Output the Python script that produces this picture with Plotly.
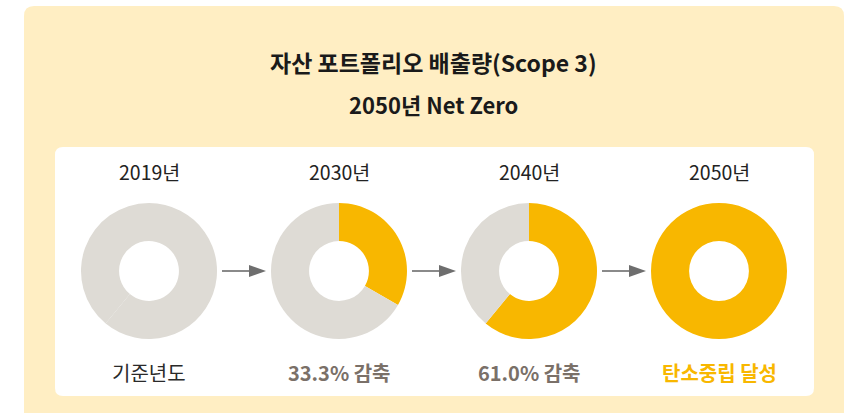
import plotly.graph_objects as go

# Scope 3 portfolio emissions pathway
years = ["2019년", "2030년", "2040년", "2050년"]
reduction_pct = [0.0, 33.3, 61.0, 100.0]
captions = ["기준년도", "33.3% 감축", "61.0% 감축", "탄소중립 달성"]
# the base-year ring is split at the 2040 level, both parts in grey
base_split = [61.0, 39.0]

title_main = "자산 포트폴리오 배출량(Scope 3)"
title_sub = "2050년 Net Zero"

W, H = 852, 413
BG_YELLOW = "#FFEEC3"
GREY = "#DEDBD5"
ORANGE = "#F8B700"
CAPTION_GREY = "#7A7068"
FONT = "Noto Sans CJK KR"

cx0, step, cy, R = 149, 190, 271, 68


def px(x):
    return x / W


def py(y):
    return 1 - y / H


def rounded_rect(x0, y0, x1, y1, r):
    return (f"M{x0 + r},{y0} L{x1 - r},{y0} Q{x1},{y0} {x1},{y0 + r} "
            f"L{x1},{y1 - r} Q{x1},{y1} {x1 - r},{y1} L{x0 + r},{y1} "
            f"Q{x0},{y1} {x0},{y1 - r} L{x0},{y0 + r} Q{x0},{y0} {x0 + r},{y0} Z")


fig = go.Figure()

for i, (yr, pct) in enumerate(zip(years, reduction_pct)):
    cx = cx0 + i * step
    if pct == 0:
        vals, cols = base_split, [GREY, GREY]
    elif pct >= 100:
        vals, cols = [pct], [ORANGE]
    else:
        vals, cols = [pct, 100 - pct], [ORANGE, GREY]
    fig.add_trace(go.Pie(
        values=vals,
        marker=dict(colors=cols, line=dict(width=0)),
        hole=0.44,
        sort=False,
        direction="clockwise",
        rotation=0,
        textinfo="none",
        hoverinfo="skip",
        showlegend=False,
        domain=dict(x=[px(cx - R), px(cx + R)], y=[py(cy + R), py(cy - R)]),
    ))

shapes = [
    dict(type="path", xref="x", yref="y", path=rounded_rect(24, 6, 844, 430, 10),
         fillcolor=BG_YELLOW, line=dict(width=0), layer="below"),
    dict(type="path", xref="x", yref="y", path=rounded_rect(55, 147, 814, 396, 8),
         fillcolor="white", line=dict(width=0), layer="below"),
]

# arrows between the rings
for i in range(3):
    a0 = cx0 + i * step + R + 5
    a1 = cx0 + (i + 1) * step - R - 5
    shapes.append(dict(type="line", xref="x", yref="y", x0=a0, x1=a1 - 14, y0=cy, y1=cy,
                       line=dict(color="#8A8A8A", width=2)))
    shapes.append(dict(type="path", xref="x", yref="y",
                       path=f"M{a1 - 17},{cy - 6} L{a1},{cy} L{a1 - 17},{cy + 6} Z",
                       fillcolor="#6E6E6E", line=dict(width=0)))

annotations = [
    dict(x=433, y=62, text=title_main,
         font=dict(size=23, color="#1A1A1A", family=FONT, weight=600)),
    dict(x=433, y=104, text=title_sub,
         font=dict(size=22, color="#1A1A1A", family=FONT, weight=600)),
]
caption_colors = ["#2A2A2A", CAPTION_GREY, CAPTION_GREY, ORANGE]
caption_weights = [400, 700, 700, 700]
for i, (yr, cap) in enumerate(zip(years, captions)):
    cx = cx0 + i * step
    annotations.append(dict(x=cx, y=171, text=yr,
                            font=dict(size=19.5, color="#222222", family=FONT, weight=400)))
    annotations.append(dict(x=cx, y=372, text=cap,
                            font=dict(size=20, color=caption_colors[i], family=FONT,
                                      weight=caption_weights[i])))
for a in annotations:
    a.update(xref="x", yref="y", showarrow=False, xanchor="center", yanchor="middle")

fig.update_layout(
    width=W, height=H,
    margin=dict(l=0, r=0, t=0, b=0),
    paper_bgcolor="white", plot_bgcolor="rgba(0,0,0,0)",
    xaxis=dict(range=[0, W], visible=False, fixedrange=True),
    yaxis=dict(range=[H, 0], visible=False, fixedrange=True),
    shapes=shapes, annotations=annotations,
)

fig.write_html("out.html", config={"displayModeBar": False})
